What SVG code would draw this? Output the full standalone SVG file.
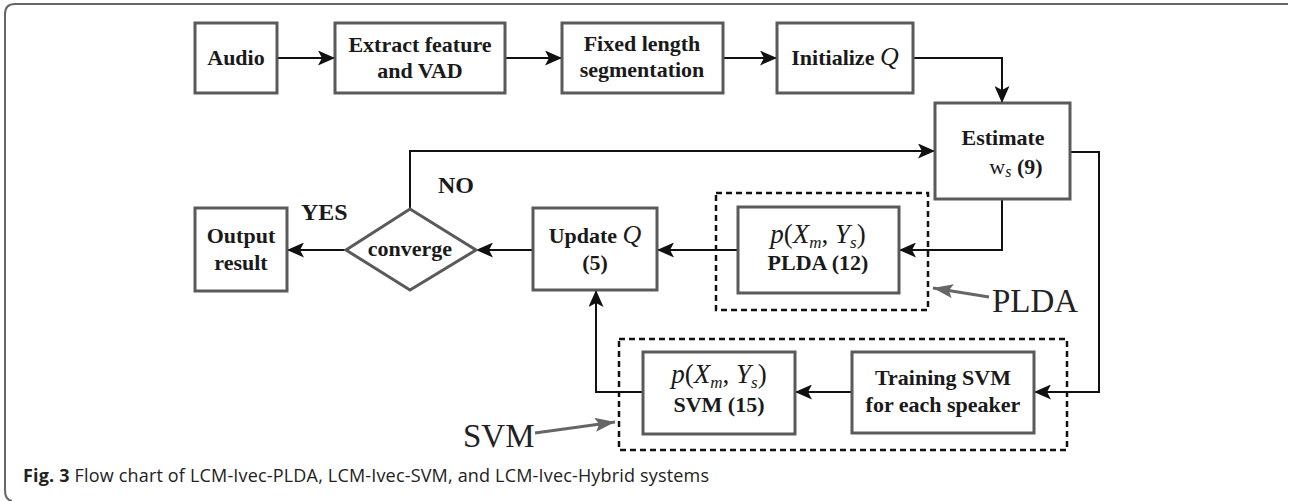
<svg xmlns="http://www.w3.org/2000/svg" width="1289" height="501" viewBox="0 0 1289 501">
<style>
.box{fill:#fff;stroke:#5a5a5a;stroke-width:3}
.dash{fill:none;stroke:#111;stroke-width:2.5;stroke-dasharray:6 4}
.con{fill:none;stroke:#111;stroke-width:2}
.ptr{fill:none;stroke:#666;stroke-width:3}
.t{font-family:"Liberation Serif",serif;font-weight:bold;font-size:22px;fill:#1a1a1a;text-anchor:middle}
.math{font-family:"Liberation Serif",serif;font-weight:normal;font-size:27px;fill:#1a1a1a;text-anchor:middle}
.lbl{font-family:"Liberation Serif",serif;font-weight:bold;font-size:24px;fill:#1a1a1a}
.m{font-family:"Liberation Serif",serif;font-weight:normal;font-style:italic;fill:#1a1a1a}
.r{font-family:"Liberation Serif",serif;font-weight:normal;font-style:normal;fill:#1a1a1a}
.sub{font-size:17px}
.big{font-family:"Liberation Serif",serif;font-size:33px;fill:#222}
.cap{font-family:"Open Sans",sans-serif;font-size:18px;fill:#222}
</style>
<defs>
<marker id="ah" markerWidth="17" markerHeight="15" refX="17" refY="7.5" orient="auto" markerUnits="userSpaceOnUse"><path d="M0,0 L17,7.5 L0,15 L4,7.5 z" fill="#111"/></marker>
<marker id="gh" markerWidth="20" markerHeight="14" refX="20" refY="7" orient="auto" markerUnits="userSpaceOnUse"><path d="M0,0 L20,7 L0,14 L4,7 z" fill="#666"/></marker>
</defs>
<rect width="1289" height="501" fill="#fff"/>
<path d="M1288,4 L15,4 Q5,4 5,14 L5,490 Q5,500 12,501" fill="none" stroke="#666" stroke-width="2"/>

<g id="connectors">
<line class="con" x1="277" y1="58" x2="335" y2="58" marker-end="url(#ah)"/>
<line class="con" x1="505" y1="58" x2="562" y2="58" marker-end="url(#ah)"/>
<line class="con" x1="723" y1="58" x2="777" y2="58" marker-end="url(#ah)"/>
<polyline class="con" points="913,58 1002,58 1002,103" marker-end="url(#ah)"/>
<polyline class="con" points="1070,152 1099,152 1099,392 1034,392" marker-end="url(#ah)"/>
<polyline class="con" points="1002,199 1002,250 899,250" marker-end="url(#ah)"/>
<line class="con" x1="738" y1="250" x2="657" y2="250" marker-end="url(#ah)"/>
<line class="con" x1="533" y1="250" x2="476" y2="250" marker-end="url(#ah)"/>
<line class="con" x1="346" y1="250" x2="287" y2="250" marker-end="url(#ah)"/>
<polyline class="con" points="410,209 410,151 935,151" marker-end="url(#ah)"/>
<line class="con" x1="852" y1="392" x2="795" y2="392" marker-end="url(#ah)"/>
<polyline class="con" points="643,392 596,392 596,290" marker-end="url(#ah)"/>
<line class="ptr" x1="989" y1="297" x2="933" y2="288" marker-end="url(#gh)"/>
<line class="ptr" x1="535" y1="433" x2="615" y2="422" marker-end="url(#gh)"/>
<text class="lbl" x="438" y="193">NO</text>
<text class="lbl" x="301" y="220">YES</text>
</g>

<g id="group-plda"><rect class="dash" x="716" y="193" width="212" height="117"/></g>
<g id="group-svm"><rect class="dash" x="619" y="339" width="448" height="111"/></g>

<g id="audio"><rect class="box" x="195" y="23" width="82" height="70"/><text class="t" x="236" y="65">Audio</text></g>
<g id="extract"><rect class="box" x="335" y="23" width="170" height="70"/><text class="t" x="420" y="52">Extract feature</text><text class="t" x="420" y="78">and VAD</text></g>
<g id="fixed"><rect class="box" x="562" y="23" width="161" height="70"/><text class="t" x="642" y="51">Fixed length</text><text class="t" x="642" y="77">segmentation</text></g>
<g id="init"><rect class="box" x="777" y="23" width="136" height="70"/><text class="t" x="845" y="65">Initialize <tspan class="m" font-size="26">Q</tspan></text></g>
<g id="estimate"><rect class="box" x="935" y="103" width="135" height="96"/><text class="t" x="1003" y="145">Estimate</text><text class="t" x="1016" y="174"><tspan class="r">w</tspan><tspan class="m" font-size="16" dy="3">s</tspan><tspan dy="-3"> (9)</tspan></text></g>
<g id="output"><rect class="box" x="195" y="208" width="92" height="83"/><text class="t" x="241" y="243">Output</text><text class="t" x="241" y="270">result</text></g>
<g id="converge"><polygon class="box" points="410,209 476,250 410,290 346,250"/><text class="t" x="410" y="256">converge</text></g>
<g id="update"><rect class="box" x="533" y="208" width="124" height="82"/><text class="t" x="595" y="243">Update <tspan class="m" font-size="26">Q</tspan></text><text class="t" x="595" y="270">(5)</text></g>
<g id="plda"><rect class="box" x="738" y="207" width="161" height="86"/><text class="math" x="818" y="243"><tspan class="m">p</tspan>(<tspan class="m">X</tspan><tspan class="m sub" dy="5">m</tspan><tspan dy="-5">, </tspan><tspan class="m">Y</tspan><tspan class="m sub" dy="5">s</tspan><tspan dy="-5">)</tspan></text><text class="t" x="818" y="270">PLDA  (12)</text></g>
<g id="svmbox"><rect class="box" x="643" y="352" width="152" height="82"/><text class="math" x="719" y="383"><tspan class="m">p</tspan>(<tspan class="m">X</tspan><tspan class="m sub" dy="5">m</tspan><tspan dy="-5">, </tspan><tspan class="m">Y</tspan><tspan class="m sub" dy="5">s</tspan><tspan dy="-5">)</tspan></text><text class="t" x="719" y="412">SVM  (15)</text></g>
<g id="training"><rect class="box" x="852" y="352" width="182" height="81"/><text class="t" x="943" y="385">Training SVM</text><text class="t" x="943" y="412">for each speaker</text></g>

<g id="labels">
<text class="big" x="992" y="312">PLDA</text>
<text class="big" x="463" y="447">SVM</text>
</g>
<text class="cap" x="23" y="482" textLength="686" lengthAdjust="spacing"><tspan font-weight="bold">Fig. 3</tspan> Flow chart of LCM-Ivec-PLDA, LCM-Ivec-SVM, and LCM-Ivec-Hybrid systems</text>
</svg>
